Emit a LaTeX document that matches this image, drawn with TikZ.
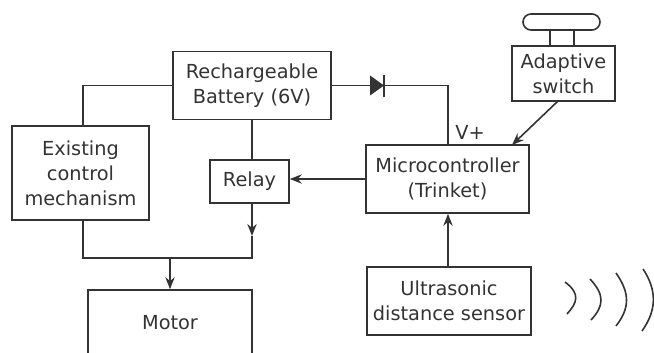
\documentclass[tikz,border=0pt]{standalone}
\usepackage{fontspec}
\setmainfont{DejaVu Sans}
\usepackage{xcolor}
\usetikzlibrary{arrows.meta}
\definecolor{ink}{gray}{0.2}

\begin{document}
\begin{tikzpicture}[x=0.75pt, y=-0.75pt, >={Stealth[length=9pt,width=7pt]}, line width=1.2pt, ink,
    block/.style={draw, align=center, inner sep=0pt, font=\fontsize{14.5}{18.7}\selectfont, text=ink}]
    \useasboundingbox (0,0) rectangle (654,353);
    \clip (0,0) rectangle (654,353);
    \node (battery) [block, minimum width=118.5pt, minimum height=51pt] at (252,85.5) {Rechargeable\\Battery (6V)};
    \node (existing) [block, minimum width=102.75pt, minimum height=70.5pt] at (80.5,173) {Existing\\control\\mechanism};
    \node (relay) [block, minimum width=59.25pt, minimum height=32.25pt] at (249.5,181.5) {Relay};
    \node (motor) [block, minimum width=123pt, minimum height=49.5pt] at (170,323) {Motor};
    \node (micro) [block, minimum width=122.25pt, minimum height=51pt] at (447.5,179) {Microcontroller\\(Trinket)};
    \node (sensor) [block, minimum width=123pt, minimum height=51pt] at (449,301) {Ultrasonic\\distance sensor};
    \node (switch) [block, minimum width=77.25pt, minimum height=41.25pt] at (563.5,73.5) {Adaptive\\switch};
    \node (button) [draw, rounded corners=6pt, minimum width=57.75pt, minimum height=12pt, inner sep=0pt] at (561.5,22) {};
    \node (vplus) [font=\fontsize{14.5}{16}\selectfont, text=ink, inner sep=0pt] at (470,132) {V+};
    \coordinate (feed) at (83,85.5);
    \coordinate (busleft) at (83,258);
    \coordinate (busright) at (252,258);
    \coordinate (tee) at (170,258);
    \coordinate (relayout) at (252,236);
    \coordinate (anode) at (370,85.5);
    \coordinate (cathode) at (384,85.5);
    \coordinate (corner) at (448,85.5);
    \draw (battery.west) -- (feed) -- (feed |- existing.north);
    \draw (battery.south) -- (battery.south |- relay.north);
    \draw[->] (battery.south |- relay.south) -- (relayout);
    \draw (relayout) -- (busright) -- (busleft) -- (feed |- existing.south);
    \draw[->] (tee) -- (tee |- motor.north);
    \draw (battery.east |- anode) -- (anode);
    \fill (anode) ++(0,-10) -- ++(14,10) -- ++(-14,10) -- cycle;
    \draw ([yshift=-12*0.75pt]cathode) -- ([yshift=10*0.75pt]cathode);
    \draw (cathode) -- (corner) -- (corner |- micro.north);
    \draw[->] (micro.west) -- (relay.east |- micro.west);
    \draw[->] (corner |- sensor.north) -- (corner |- micro.south);
    \draw[->] (558,101) -- (512,145);
    \draw (550,30) -- (550,46);
    \draw (574,30) -- (574,46);
    \draw (565,282) .. controls (581,294) and (577,303) .. (567,314);
    \draw (590,279) .. controls (605,295) and (604,306) .. (591,320);
    \draw (616,273) .. controls (630,293) and (630,308) .. (616,326);
    \draw (643,269) .. controls (657,290) and (657,310) .. (642,331);
\end{tikzpicture}
\end{document}
